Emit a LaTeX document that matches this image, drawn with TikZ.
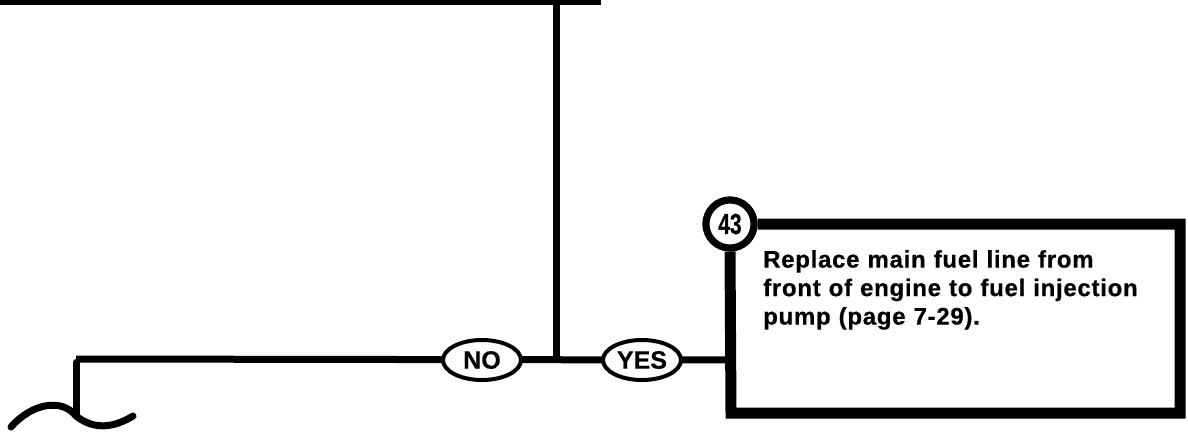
\documentclass[tikz,border=0pt]{standalone}
\usepackage{fontspec}
\newfontfamily\hvb{Liberation Sans Bold}[LetterSpace=3,FakeBold=0.6]
\newfontfamily\hvbn{Liberation Sans Bold}[FakeBold=0.6]
\usetikzlibrary{shapes.geometric}
\begin{document}
\begin{tikzpicture}[x=1pt,y=-1pt,
  flow/.style={line width=7pt},
  oval/.style={ellipse,draw,line width=4pt,fill=white,minimum width=78pt,minimum height=40pt,inner sep=0pt,font=\hvbn\fontsize{25}{25}\selectfont},
  numcirc/.style={circle,draw,line width=7pt,fill=white,minimum size=48pt,inner sep=0pt,font=\hvbn\fontsize{29}{29}\selectfont},
  boxline/.style={line width=11pt,line join=miter},
  body/.style={anchor=north west,inner sep=0pt,align=left,text width=420pt,font=\hvb\fontsize{24}{28.5}\selectfont}]
\useasboundingbox (0,0) rectangle (1188,432);
% coordinates
\coordinate (topL) at (0,2.5);
\coordinate (topR) at (601,2.5);
\coordinate (vtop) at (556,0);
\coordinate (junc) at (556,360);
\coordinate (corner) at (76,359);
\coordinate (brk) at (76,416);
\coordinate (boxin) at (731,360);
\coordinate (bTR) at (1180,224);
\coordinate (bBR) at (1180,413);
\coordinate (bBL) at (731,413);
% top line and trunk
\draw[line width=5pt] (topL) -- (topR);
\draw[flow] (vtop) -- (junc);
% main horizontal line
\draw[flow] (corner) -- (boxin);
\draw[flow,line cap=round] ([yshift=-3.5pt]corner) -- (brk);
% break symbol
\draw[line width=7pt,line cap=round] (11,427) .. controls (32,403) and (62,398) .. (brk) .. controls (95,431) and (115,427) .. (133,416);
% box
\node[numcirc] (n43) at (730,224) {\scalebox{0.72}[1]{43}};
\draw[boxline] (n43.east) -- (bTR) -- (bBR) -- (bBL) -- (n43.south);
\node[numcirc] at (730,224) {\scalebox{0.72}[1]{43}};
% ovals
\node[oval] (no) at (482,360) {NO};
\node[oval] (yes) at (642,360) {YES};
% text
\node[body] (txt) at (763,250) {Replace main fuel line from\\front of engine to fuel injection\\pump (page 7-29).};
\end{tikzpicture}
\end{document}
